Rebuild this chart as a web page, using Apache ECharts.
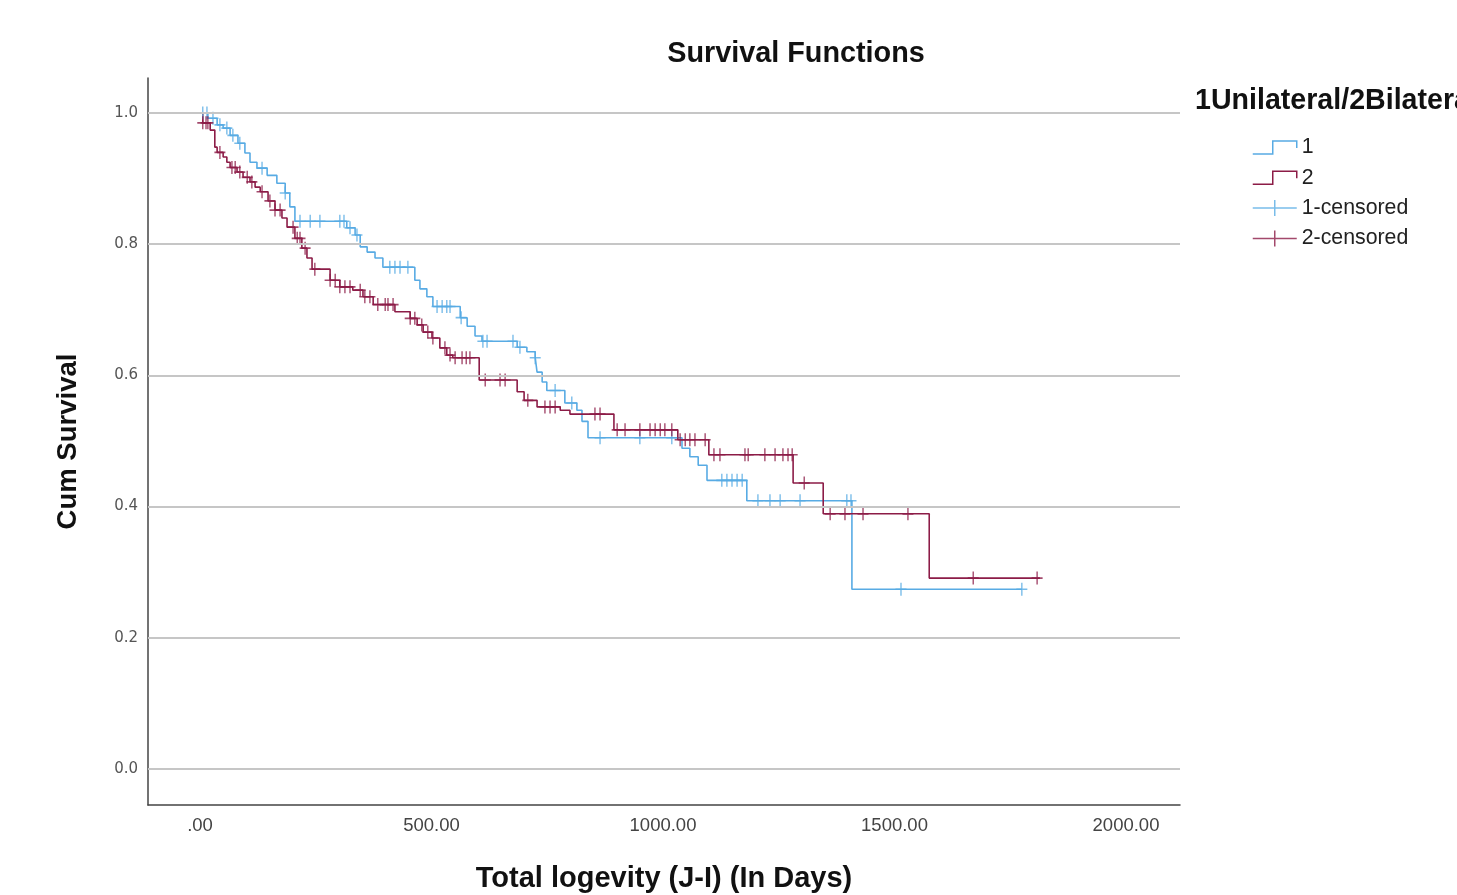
<!DOCTYPE html>
<html>
<head>
<meta charset="utf-8">
<script src="https://cdn.jsdelivr.net/npm/echarts@6/dist/echarts.min.js"></script>
<style>
html,body{margin:0;padding:0;background:#fff;}
#chart{width:1457px;height:895px;}
</style>
</head>
<body>
<div id="chart"></div>
<script>
// ---- Data ----
const xTicks = [0, 500, 1000, 1500, 2000];
const yTicks = [0, 0.2, 0.4, 0.6, 0.8, 1.0];

// Group 1 (Unilateral) Kaplan-Meier steps: time (days) and survival
const g1Times = [0, 17, 37, 50, 65, 82, 97, 108, 123, 145, 166, 184, 194, 205, 317, 335, 346, 361, 378, 395, 464, 475, 490, 503, 562, 577, 594, 609, 685, 706, 724, 728, 739, 749, 788, 814, 825, 838, 1041, 1058, 1076, 1095, 1181, 1408, 1775];
const g1Surv  = [1.0, 0.992, 0.982, 0.977, 0.966, 0.954, 0.939, 0.925, 0.916, 0.905, 0.893, 0.878, 0.857, 0.835, 0.825, 0.814, 0.796, 0.788, 0.779, 0.765, 0.745, 0.732, 0.72, 0.705, 0.688, 0.675, 0.66, 0.652, 0.643, 0.636, 0.627, 0.605, 0.59, 0.577, 0.558, 0.547, 0.53, 0.505, 0.489, 0.476, 0.463, 0.44, 0.409, 0.274, 0.274];
const g1Censored = [6, 15, 28, 43, 58, 71, 86, 134, 184, 216, 238, 259, 302, 311, 324, 339, 410, 421, 432, 449, 512, 523, 533, 540, 564, 611, 620, 676, 691, 724, 767, 803, 864, 950, 1019, 1127, 1138, 1149, 1160, 1171, 1205, 1231, 1253, 1296, 1397, 1406, 1514, 1775];

// Group 2 (Bilateral)
const g2Times = [0, 6, 22, 32, 37, 50, 58, 65, 80, 93, 108, 119, 130, 147, 162, 177, 188, 205, 220, 231, 242, 281, 302, 330, 352, 374, 421, 454, 469, 482, 501, 518, 533, 546, 603, 685, 700, 728, 778, 799, 894, 1032, 1099, 1281, 1346, 1575, 1814];
const g2Surv  = [1.0, 0.985, 0.974, 0.948, 0.94, 0.933, 0.925, 0.917, 0.91, 0.902, 0.895, 0.887, 0.88, 0.866, 0.852, 0.84, 0.826, 0.809, 0.794, 0.779, 0.762, 0.745, 0.735, 0.73, 0.72, 0.708, 0.697, 0.687, 0.677, 0.666, 0.657, 0.642, 0.631, 0.627, 0.593, 0.575, 0.562, 0.552, 0.547, 0.541, 0.517, 0.502, 0.479, 0.436, 0.389, 0.291, 0.291];
const g2Censored = [6, 13, 17, 43, 69, 76, 86, 102, 112, 134, 151, 162, 173, 201, 210, 216, 227, 248, 281, 292, 302, 313, 324, 346, 356, 367, 384, 400, 406, 417, 454, 464, 479, 492, 503, 529, 540, 551, 566, 575, 583, 616, 648, 659, 708, 745, 756, 767, 853, 864, 901, 918, 950, 972, 983, 994, 1004, 1019, 1037, 1048, 1058, 1069, 1091, 1110, 1123, 1177, 1184, 1220, 1242, 1259, 1270, 1279, 1305, 1361, 1393, 1432, 1529, 1670, 1808];

const groupNames = ['1', '2', '1-censored', '2-censored'];
const legendTitle = '1Unilateral/2Bilateral';

// ---- Helpers ----
function survAt(times, surv, t) {
  let v = surv[0];
  for (let i = 0; i < times.length; i++) { if (times[i] <= t) v = surv[i]; else break; }
  return v;
}
const C1 = '#58abe4';
const C2 = '#8c1c47';
const stepIcon = 'path://M0,15 L20,15 L20,2 L44,2 L44,9';
const plusIcon = 'path://M0,8 L44,8 M22,0 L22,16';
const censorSymbol = 'path://M0,7 L12,7 M6,0 L6,14';

const chart = echarts.init(document.getElementById('chart'));
const option = {
  animation: false,
  backgroundColor: '#ffffff',
  title: {
    text: 'Survival Functions',
    left: 791, top: 35, textAlign: 'center',
    textStyle: { fontFamily: 'Liberation Sans, Arial, sans-serif', fontWeight: 'bold', fontSize: 28.8, color: '#111' }
  },
  legend: {
    orient: 'vertical', left: 1247, top: 132,
    itemWidth: 44, itemHeight: 16, itemGap: 9.3,
    textStyle: { fontFamily: 'Liberation Sans, Arial, sans-serif', fontSize: 21.3, color: '#222' },
    data: [
      { name: groupNames[0], icon: stepIcon, itemStyle: { color: 'transparent', borderColor: C1, borderWidth: 1.5 } },
      { name: groupNames[1], icon: stepIcon, itemStyle: { color: 'transparent', borderColor: C2, borderWidth: 1.5 } },
      { name: groupNames[2], icon: plusIcon, itemStyle: { color: 'transparent', borderColor: C1, borderWidth: 1.5 } },
      { name: groupNames[3], icon: plusIcon, itemStyle: { color: 'transparent', borderColor: C2, borderWidth: 1.5 } }
    ]
  },
  graphic: [{
    type: 'text', left: 1195, top: 87,
    style: { text: legendTitle, font: 'bold 28.6px "Liberation Sans", Arial, sans-serif', fill: '#111' }
  }],
  grid: { left: 148, right: 277, top: 78, bottom: 90, outerBoundsMode: 'none', containLabel: false },
  xAxis: {
    type: 'value', min: -112.3, max: 2116.6,
    name: 'Total logevity (J-I) (In Days)', nameLocation: 'middle', nameGap: 59,
    nameTextStyle: { fontFamily: 'Liberation Sans, Arial, sans-serif', fontWeight: 'bold', fontSize: 29, color: '#111' },
    axisLine: { show: true, onZero: false, lineStyle: { color: '#444', width: 1.5 } },
    axisTick: { show: false },
    splitLine: { show: false },
    axisLabel: {
      customValues: xTicks, margin: 11,
      fontFamily: 'Liberation Sans Narrow, Liberation Sans, Arial, sans-serif', fontSize: 18.5, color: '#444',
      formatter: v => (v === 0 ? '.00' : v.toFixed(2))
    }
  },
  yAxis: {
    type: 'value', min: -0.0549, max: 1.0534,
    name: 'Cum Survival', nameLocation: 'middle', nameGap: 66, nameRotate: 90,
    nameTextStyle: { fontFamily: 'Liberation Sans, Arial, sans-serif', fontWeight: 'bold', fontSize: 27.5, color: '#111' },
    axisLine: { show: true, onZero: false, lineStyle: { color: '#444', width: 1.5 } },
    axisTick: { show: false },
    splitLine: { show: false },
    axisLabel: {
      customValues: yTicks, margin: 10,
      fontFamily: 'DejaVu Sans, sans-serif', fontSize: 15, color: '#555',
      formatter: v => v.toFixed(1)
    }
  },
  series: [
    {
      name: '__grid', type: 'line', data: [], silent: true, z: 1,
      markLine: {
        silent: true, symbol: ['none', 'none'], label: { show: false },
        lineStyle: { color: '#c6c6c6', width: 2, type: 'solid' },
        data: yTicks.map(v => ({ yAxis: v }))
      }
    },
    {
      name: groupNames[0], type: 'line', step: 'end', showSymbol: false, z: 3,
      data: g1Times.map((t, i) => [t, g1Surv[i]]),
      lineStyle: { color: C1, width: 1.6 }, itemStyle: { color: C1 }
    },
    {
      name: groupNames[1], type: 'line', step: 'end', showSymbol: false, z: 3,
      data: g2Times.map((t, i) => [t, g2Surv[i]]),
      lineStyle: { color: C2, width: 1.6 }, itemStyle: { color: C2 }
    },
    {
      name: groupNames[2], type: 'scatter', z: 4,
      symbol: censorSymbol, symbolSize: [11, 13],
      data: g1Censored.map(t => [t, survAt(g1Times, g1Surv, t)]),
      itemStyle: { color: 'transparent', borderColor: C1, borderWidth: 1.5 }
    },
    {
      name: groupNames[3], type: 'scatter', z: 4,
      symbol: censorSymbol, symbolSize: [11, 13],
      data: g2Censored.map(t => [t, survAt(g2Times, g2Surv, t)]),
      itemStyle: { color: 'transparent', borderColor: C2, borderWidth: 1.5 }
    }
  ]
};
chart.setOption(option);
</script>
</body>
</html>
